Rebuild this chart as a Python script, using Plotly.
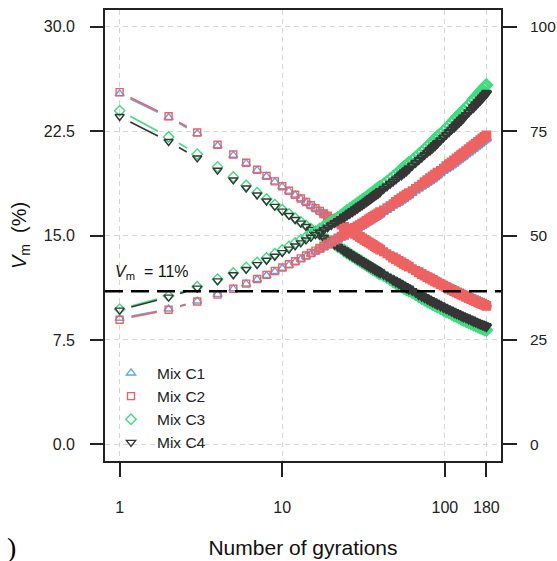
import numpy as np
import plotly.graph_objects as go

# ---------------- data ----------------
GYRATIONS = list(range(1, 41)) + [42, 44, 46, 48, 50, 52, 54, 56, 58, 60,
             63, 66, 69, 72, 75, 78, 81, 84, 87, 90,
             94, 98, 102, 106, 110, 114, 118, 122, 126, 130,
             135, 140, 145, 150, 155, 160, 165, 170, 175, 180]

# Vm (%) - decreasing series (left axis)
VM_C1 = [25.18, 23.48, 22.32, 21.45, 20.76, 20.18, 19.68, 19.24, 18.85, 18.51,
         18.19, 17.91, 17.64, 17.39, 17.16, 16.96, 16.76, 16.56, 16.39, 16.22,
         16.06, 15.91, 15.76, 15.62, 15.49, 15.37, 15.25, 15.13, 15.02, 14.91,
         14.80, 14.70, 14.60, 14.52, 14.43, 14.34, 14.25, 14.17, 14.09, 14.01,
         13.85, 13.72, 13.58, 13.45, 13.33, 13.21, 13.10, 13.00, 12.90, 12.80,
         12.66, 12.52, 12.40, 12.27, 12.17, 12.06, 11.96, 11.86, 11.76, 11.67,
         11.56, 11.46, 11.35, 11.25, 11.16, 11.07, 10.98, 10.91, 10.83, 10.76,
         10.67, 10.58, 10.50, 10.42, 10.35, 10.28, 10.22, 10.15, 10.09, 10.03]
VM_C2 = [25.30, 23.57, 22.40, 21.52, 20.82, 20.23, 19.72, 19.28, 18.89, 18.54,
         18.22, 17.93, 17.66, 17.41, 17.18, 16.97, 16.77, 16.57, 16.40, 16.22,
         16.06, 15.91, 15.76, 15.62, 15.49, 15.36, 15.24, 15.12, 15.01, 14.90,
         14.79, 14.69, 14.59, 14.50, 14.41, 14.32, 14.23, 14.15, 14.07, 13.99,
         13.83, 13.69, 13.55, 13.42, 13.30, 13.18, 13.07, 12.96, 12.86, 12.76,
         12.62, 12.48, 12.36, 12.23, 12.12, 12.01, 11.91, 11.81, 11.71, 11.62,
         11.51, 11.40, 11.29, 11.19, 11.10, 11.01, 10.92, 10.84, 10.76, 10.69,
         10.60, 10.51, 10.43, 10.35, 10.28, 10.20, 10.14, 10.07, 10.01, 9.95]
VM_C3 = [23.97, 22.08, 20.84, 19.93, 19.20, 18.59, 18.07, 17.62, 17.22, 16.86,
         16.54, 16.24, 15.97, 15.72, 15.49, 15.27, 15.06, 14.88, 14.69, 14.52,
         14.36, 14.20, 14.05, 13.92, 13.78, 13.65, 13.52, 13.41, 13.29, 13.19,
         13.07, 12.98, 12.88, 12.78, 12.69, 12.60, 12.51, 12.43, 12.34, 12.27,
         12.11, 11.97, 11.83, 11.71, 11.58, 11.46, 11.35, 11.24, 11.13, 11.04,
         10.89, 10.75, 10.63, 10.51, 10.40, 10.28, 10.18, 10.08, 9.98, 9.89,
         9.78, 9.66, 9.56, 9.46, 9.37, 9.27, 9.19, 9.10, 9.02, 8.94,
         8.86, 8.76, 8.69, 8.60, 8.53, 8.46, 8.39, 8.33, 8.26, 8.20]
VM_C4 = [23.55, 21.75, 20.57, 19.69, 18.99, 18.41, 17.91, 17.48, 17.09, 16.75,
         16.44, 16.15, 15.89, 15.65, 15.43, 15.22, 15.02, 14.84, 14.66, 14.50,
         14.34, 14.19, 14.05, 13.92, 13.79, 13.66, 13.54, 13.43, 13.32, 13.22,
         13.11, 13.02, 12.92, 12.83, 12.74, 12.66, 12.57, 12.49, 12.41, 12.34,
         12.19, 12.05, 11.92, 11.80, 11.68, 11.57, 11.46, 11.35, 11.25, 11.16,
         11.02, 10.89, 10.77, 10.66, 10.55, 10.44, 10.34, 10.25, 10.15, 10.07,
         9.96, 9.85, 9.75, 9.66, 9.57, 9.48, 9.40, 9.32, 9.24, 9.17,
         9.09, 9.00, 8.93, 8.85, 8.78, 8.71, 8.65, 8.59, 8.53, 8.47]

# increasing series, read against the left scale (shown on the right axis, 0-100)
UP_C1 = [9.05, 9.72, 10.29, 10.76, 11.17, 11.52, 11.84, 12.13, 12.41, 12.65,
         12.87, 13.09, 13.29, 13.49, 13.66, 13.83, 14.00, 14.15, 14.30, 14.44,
         14.58, 14.72, 14.85, 14.96, 15.09, 15.20, 15.32, 15.42, 15.53, 15.63,
         15.73, 15.82, 15.92, 16.02, 16.11, 16.20, 16.28, 16.36, 16.45, 16.53,
         16.69, 16.84, 16.98, 17.13, 17.27, 17.39, 17.52, 17.65, 17.77, 17.88,
         18.05, 18.21, 18.36, 18.51, 18.66, 18.80, 18.93, 19.06, 19.19, 19.32,
         19.47, 19.63, 19.78, 19.92, 20.05, 20.19, 20.32, 20.45, 20.57, 20.69,
         20.84, 20.98, 21.12, 21.24, 21.37, 21.50, 21.62, 21.74, 21.85, 21.96]
UP_C2 = [8.95, 9.67, 10.26, 10.75, 11.17, 11.54, 11.87, 12.17, 12.45, 12.70,
         12.93, 13.15, 13.36, 13.56, 13.74, 13.91, 14.08, 14.24, 14.39, 14.54,
         14.68, 14.82, 14.95, 15.07, 15.20, 15.31, 15.43, 15.54, 15.65, 15.75,
         15.85, 15.95, 16.05, 16.15, 16.24, 16.33, 16.42, 16.50, 16.59, 16.67,
         16.83, 16.99, 17.13, 17.28, 17.42, 17.55, 17.68, 17.81, 17.93, 18.05,
         18.22, 18.38, 18.54, 18.69, 18.84, 18.98, 19.12, 19.25, 19.38, 19.51,
         19.67, 19.83, 19.98, 20.12, 20.26, 20.40, 20.53, 20.66, 20.79, 20.91,
         21.06, 21.20, 21.34, 21.47, 21.60, 21.73, 21.85, 21.97, 22.09, 22.20]
UP_C3 = [9.71, 10.66, 11.32, 11.86, 12.31, 12.71, 13.07, 13.39, 13.69, 13.96,
         14.22, 14.46, 14.69, 14.90, 15.10, 15.30, 15.48, 15.67, 15.84, 16.00,
         16.17, 16.32, 16.47, 16.61, 16.76, 16.89, 17.03, 17.16, 17.29, 17.41,
         17.53, 17.65, 17.76, 17.88, 17.99, 18.09, 18.21, 18.31, 18.41, 18.51,
         18.71, 18.89, 19.08, 19.25, 19.42, 19.60, 19.75, 19.91, 20.06, 20.22,
         20.44, 20.64, 20.85, 21.04, 21.23, 21.42, 21.60, 21.77, 21.94, 22.11,
         22.32, 22.53, 22.73, 22.93, 23.12, 23.30, 23.49, 23.66, 23.83, 24.00,
         24.20, 24.40, 24.60, 24.78, 24.97, 25.14, 25.32, 25.48, 25.66, 25.82]
UP_C4 = [9.64, 10.57, 11.22, 11.74, 12.18, 12.56, 12.91, 13.22, 13.51, 13.77,
         14.02, 14.25, 14.47, 14.68, 14.87, 15.06, 15.24, 15.42, 15.58, 15.74,
         15.90, 16.05, 16.19, 16.33, 16.47, 16.60, 16.73, 16.86, 16.98, 17.10,
         17.22, 17.33, 17.44, 17.55, 17.66, 17.76, 17.87, 17.97, 18.06, 18.16,
         18.35, 18.53, 18.71, 18.88, 19.04, 19.21, 19.36, 19.51, 19.66, 19.81,
         20.02, 20.22, 20.42, 20.60, 20.79, 20.97, 21.14, 21.31, 21.47, 21.64,
         21.84, 22.04, 22.24, 22.43, 22.61, 22.79, 22.97, 23.14, 23.30, 23.46,
         23.66, 23.85, 24.04, 24.22, 24.40, 24.57, 24.74, 24.90, 25.07, 25.22]

MIX_NAMES = ["Mix C1", "Mix C2", "Mix C3", "Mix C4"]
VM_LIMIT = 11.0
X_TICKS = [1, 10, 100, 180]
Y_TICKS = [0, 7.5, 15, 22.5, 30]
Y2_TICKS = [0, 25, 50, 75, 100]
Y2_PER_Y = 100 / 30          # right scale units per left scale unit

# ---------------- styling ----------------
COLORS = ["#58A8F2", "#EE6262", "#3EDD7E", "#363636"]
SYMBOLS = ["triangle-up-open", "square-open", "diamond-open", "triangle-down-open"]
SIZES = [8, 7, 8, 8]
FONT = "Liberation Sans, Arial, sans-serif"

W, H = 557, 561
M_L, M_R, M_T, M_B = 105, 56, 10, 100
PW, PH = W - M_L - M_R, H - M_T - M_B
XR = [-0.09, 2.345]          # log10 range
YR = [-1.2, 31.2]
Y2R = [v * Y2_PER_Y for v in YR]


def to_px(xs, ys):
    lx = np.log10(np.asarray(xs, float))
    yv = np.asarray(ys, float)
    return lx, yv, (lx - XR[0]) / (XR[1] - XR[0]) * PW, (yv - YR[0]) / (YR[1] - YR[0]) * PH


def gap_segments(xs, ys, gap=12.0):
    """R type='b' style: line pieces between points with a gap round each point."""
    lx, yv, px, py = to_px(xs, ys)
    sx, sy = [], []
    for i in range(len(xs) - 1):
        d = float(np.hypot(px[i + 1] - px[i], py[i + 1] - py[i]))
        if d > 2 * gap:
            f0, f1 = gap / d, 1 - gap / d
            sx += [10 ** (lx[i] + f0 * (lx[i + 1] - lx[i])),
                   10 ** (lx[i] + f1 * (lx[i + 1] - lx[i])), None]
            sy += [yv[i] + f0 * (yv[i + 1] - yv[i]),
                   yv[i] + f1 * (yv[i + 1] - yv[i]), None]
    return sx, sy


def spacing(xs, ys):
    _, _, px, py = to_px(xs, ys)
    d = np.hypot(np.diff(px), np.diff(py))
    return np.concatenate([d[:1], d])


fig = go.Figure()
series = [(VM_C1, UP_C1), (VM_C2, UP_C2), (VM_C3, UP_C3), (VM_C4, UP_C4)]
for k, (vm, up) in enumerate(series):
    for j, ys in enumerate((vm, up)):
        yaxis = "y" if j == 0 else "y2"
        scale = 1.0 if j == 0 else Y2_PER_Y
        sx, sy = gap_segments(GYRATIONS, ys)
        fig.add_trace(go.Scatter(x=sx, y=[None if v is None else v * scale for v in sy],
                                 mode="lines", yaxis=yaxis,
                                 line=dict(color=COLORS[k], width=1.6),
                                 showlegend=False, hoverinfo="skip"))
        d = spacing(GYRATIONS, ys)
        sparse = [i for i in range(len(GYRATIONS)) if d[i] >= 5]
        dense = [i for i in range(len(GYRATIONS)) if d[i] < 5]
        # well separated points: thin outlines (these also give the legend key)
        fig.add_trace(go.Scatter(x=[GYRATIONS[i] for i in sparse],
                                 y=[ys[i] * scale for i in sparse], mode="markers",
                                 yaxis=yaxis, name=MIX_NAMES[k], legendgroup=MIX_NAMES[k],
                                 showlegend=(j == 0),
                                 marker=dict(symbol=SYMBOLS[k], size=SIZES[k], color=COLORS[k],
                                             line=dict(width=1.4, color=COLORS[k]))))
        # crowded points: heavier outlines so the overlapping symbols merge into a band
        fig.add_trace(go.Scatter(x=[GYRATIONS[i] for i in dense],
                                 y=[ys[i] * scale for i in dense], mode="markers",
                                 yaxis=yaxis, name=MIX_NAMES[k], legendgroup=MIX_NAMES[k],
                                 showlegend=False,
                                 marker=dict(symbol=SYMBOLS[k], size=SIZES[k], color=COLORS[k],
                                             line=dict(width=[2.8 if d[i] < 3.6 else 2.0
                                                              for i in dense],
                                                       color=COLORS[k]))))

fig.add_shape(type="line", xref="paper", x0=0, x1=1, yref="y", y0=VM_LIMIT, y1=VM_LIMIT,
              line=dict(color="black", width=2.4, dash="18px,8px"))

fig.add_annotation(xref="paper", yref="y", x=0.02, y=VM_LIMIT + 0.55,
                   xanchor="left", yanchor="bottom", showarrow=False,
                   text="<i>V</i><sub>m</sub>  = " + f"{VM_LIMIT:g}%",
                   font=dict(family=FONT, size=16, color="#111"))
fig.add_annotation(xref="paper", yref="paper", x=-100 / PW, y=-86 / PH,
                   xanchor="left", yanchor="middle", showarrow=False, text=")",
                   font=dict(family="Liberation Serif, Times New Roman, serif", size=28,
                             color="black"))

grid = dict(showgrid=True, gridcolor="#D6D6D6", gridwidth=1.3, griddash="5px,4px")
tickfont = dict(family=FONT, size=16, color="#222")
fig.update_layout(
    width=W, height=H, margin=dict(l=M_L, r=M_R, t=M_T, b=M_B, autoexpand=False),
    plot_bgcolor="white", paper_bgcolor="white",
    font=dict(family=FONT, size=15, color="#222"),
    showlegend=True,
    legend=dict(x=0.0, y=0.232, xanchor="left", yanchor="top", itemwidth=42,
                bgcolor="rgba(0,0,0,0)", font=dict(family=FONT, size=15.5, color="#222"),
                tracegroupgap=0),
    xaxis=dict(type="log", range=XR, tickvals=X_TICKS, ticktext=[str(v) for v in X_TICKS],
               ticks="outside", ticklen=14, tickwidth=1.6, tickcolor="#222",
               showline=True, linecolor="#222", linewidth=1.6, mirror=True,
               zeroline=False, ticklabelstandoff=17, tickfont=tickfont,
               title=dict(text="Number of gyrations", standoff=25,
                          font=dict(family=FONT, size=21, color="#111")),
               **grid),
    yaxis=dict(range=YR, tickvals=Y_TICKS, tickformat=".1f",
               ticks="outside", ticklen=13, tickwidth=1.6, tickcolor="#222",
               showline=True, linecolor="#222", linewidth=1.6, mirror=True,
               zeroline=False, ticklabelstandoff=12, tickfont=tickfont,
               title=dict(text="<i>V</i><sub>m</sub>  (%)", standoff=12,
                          font=dict(family=FONT, size=20, color="#111")),
               **grid),
    yaxis2=dict(range=Y2R, tickvals=Y2_TICKS, overlaying="y", side="right",
                ticks="outside", ticklen=14, tickwidth=1.6, tickcolor="#222",
                showline=True, linecolor="#222", linewidth=1.6,
                tickfont=dict(family=FONT, size=15.5, color="#222"),
                showgrid=False, zeroline=False, ticklabelstandoff=10),
)

fig.write_html("out.html")
